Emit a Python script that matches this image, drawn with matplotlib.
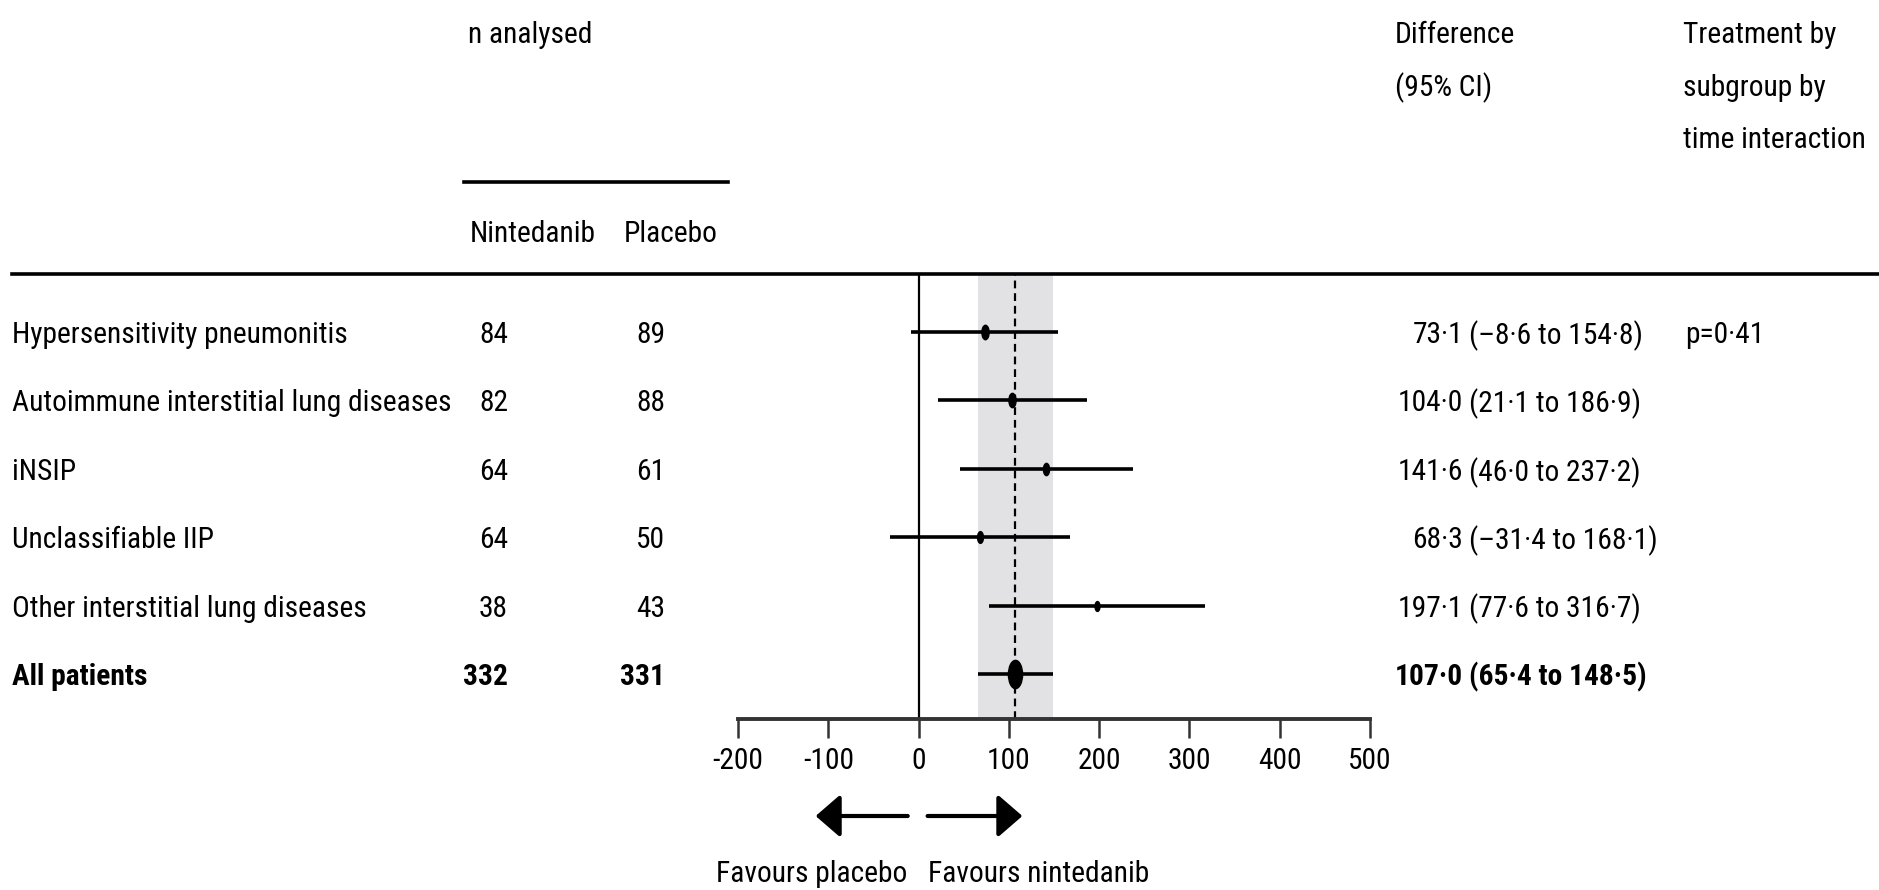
import numpy as np
import matplotlib
matplotlib.use("Agg")
import matplotlib.pyplot as plt
from matplotlib import font_manager as fm
from matplotlib.textpath import TextToPath
from matplotlib.path import Path
from matplotlib.transforms import blended_transform_factory, Affine2D
from matplotlib.lines import Line2D

# data
subgroups = ["Hypersensitivity pneumonitis",
             "Autoimmune interstitial lung diseases",
             "iNSIP",
             "Unclassifiable IIP",
             "Other interstitial lung diseases",
             "All patients"]
n_nintedanib = [84, 82, 64, 64, 38, 332]
n_placebo = [89, 88, 61, 50, 43, 331]
diff = [73.1, 104.0, 141.6, 68.3, 197.1, 107.0]
ci_low = [-8.6, 21.1, 46.0, -31.4, 77.6, 65.4]
ci_high = [154.8, 186.9, 237.2, 168.1, 316.7, 148.5]
p_interaction = "p=0·41"
xticks = [-200, -100, 0, 100, 200, 300, 400, 500]


# pick a narrow font if one is installed (reference uses a condensed face)
def is_cond(f):
    st = f.stretch
    if isinstance(st, str):
        return st in ("condensed", "semi-condensed")
    return 300 <= st < 500


family, stretch = "DejaVu Sans", "normal"
names = {f.name for f in fm.fontManager.ttflist}
for nm in ["Liberation Sans Narrow", "Roboto Condensed", "Open Sans Condensed",
           "Noto Sans Condensed", "DejaVu Sans Condensed"]:
    if nm in names:
        family = nm
        break
else:
    for nm in ["Noto Sans", "Open Sans", "Roboto", "DejaVu Sans"]:
        if any(f.name == nm and is_cond(f) for f in fm.fontManager.ttflist):
            family, stretch = nm, "condensed"
            break

plt.rcParams["font.family"] = [family, "DejaVu Sans"]
plt.rcParams["font.stretch"] = stretch
plt.rcParams["axes.unicode_minus"] = False

# size the text so the longest label is about as wide as in the reference
probe = fm.FontProperties(family=[family, "DejaVu Sans"], stretch=stretch, size=20)
w20 = TextToPath().get_text_width_height_descent(subgroups[1], probe, ismath=False)[0]
FS = 20 * (440 * 0.72) / w20

W, H = 1879, 890


def fmt(v):
    return f"{v:.1f}".replace(".", "·").replace("-", "–")


def fx(px):
    return px / W


def fy(py):
    return 1 - py / H


fig = plt.figure(figsize=(W / 100, H / 100), dpi=100)
ax = fig.add_axes([fx(738), fy(719), fx(1370) - fx(738), fy(274) - fy(719)])

rows = np.arange(len(subgroups))
ax.set_xlim(-200, 500)
ax.set_ylim(5.66, -0.85)

overall = diff[-1]
ax.axvspan(ci_low[-1], ci_high[-1], color="#e2e2e4", lw=0, zorder=0)
ax.axvline(0, color="black", lw=1.6, zorder=1)
ax.axvline(overall, color="black", lw=1.6, dashes=(3.5, 2.2), zorder=1)

ellipse = Path.unit_circle().transformed(Affine2D().scale(0.5, 1.0))
for i in rows:
    ax.plot([ci_low[i], ci_high[i]], [i, i], color="black", lw=2.6,
            solid_capstyle="butt", zorder=2)
    n_tot = n_nintedanib[i] + n_placebo[i]
    ms = 1.1 * np.sqrt(n_tot) * 0.72
    ax.plot(diff[i], i, marker=ellipse, ms=ms, color="black", zorder=3)

for s in ["left", "right", "top"]:
    ax.spines[s].set_visible(False)
ax.spines["bottom"].set_linewidth(2.8)
ax.spines["bottom"].set_color("#333333")
ax.set_yticks([])
ax.set_xticks(xticks)
ax.set_xticklabels([str(t) for t in xticks], fontsize=FS)
ax.tick_params(axis="x", length=14, width=1.8, pad=6, color="#333333")

# table columns
tr = blended_transform_factory(fig.transFigure, ax.transData)
for i in rows:
    bold = "bold" if i == rows[-1] else "normal"
    kw = dict(transform=tr, va="center_baseline", fontsize=FS, fontweight=bold)
    ax.text(fx(12), i, subgroups[i], ha="left", **kw)
    ax.text(fx(508), i, str(n_nintedanib[i]), ha="right", **kw)
    ax.text(fx(665), i, str(n_placebo[i]), ha="right", **kw)
    ax.text(fx(1463), i, fmt(diff[i]), ha="right", **kw)
    ax.text(fx(1469), i, f"({fmt(ci_low[i])} to {fmt(ci_high[i])})",
            ha="left", **kw)
ax.text(fx(1685), 0, p_interaction, transform=tr, va="center_baseline",
        ha="left", fontsize=FS)

# headers
fig.text(fx(468), fy(43), "n analysed", fontsize=FS, va="baseline")
fig.text(fx(470), fy(242), "Nintedanib", fontsize=FS, va="baseline")
fig.text(fx(624), fy(242), "Placebo", fontsize=FS, va="baseline")
for k, line in enumerate(["Difference", "(95% CI)"]):
    fig.text(fx(1395), fy(43 + 53 * k), line, fontsize=FS, va="baseline")
for k, line in enumerate(["Treatment by", "subgroup by", "time interaction"]):
    fig.text(fx(1683), fy(43 + 52.5 * k), line, fontsize=FS, va="baseline")

fig.add_artist(Line2D([fx(12), 1], [fy(274), fy(274)], color="black", lw=2.6))
fig.add_artist(Line2D([fx(464), fx(728)], [fy(182), fy(182)], color="black",
                      lw=2.6))

# favours arrows
arrow_y = fy(816)
for tail, tip in [(-12, -114), (10, 115)]:
    ax.annotate("", xy=(tip, arrow_y), xytext=(tail, arrow_y),
                xycoords=("data", "figure fraction"),
                textcoords=("data", "figure fraction"),
                arrowprops=dict(arrowstyle="-|>,head_length=0.75,head_width=0.65",
                                mutation_scale=20, lw=3, color="black",
                                shrinkA=0, shrinkB=0))
ax.annotate("Favours placebo", xy=(-12, fy(882)),
            xycoords=("data", "figure fraction"), ha="right", va="baseline",
            fontsize=FS)
ax.annotate("Favours nintedanib", xy=(10, fy(882)),
            xycoords=("data", "figure fraction"), ha="left", va="baseline",
            fontsize=FS)

fig.savefig("out.png", dpi=100)
